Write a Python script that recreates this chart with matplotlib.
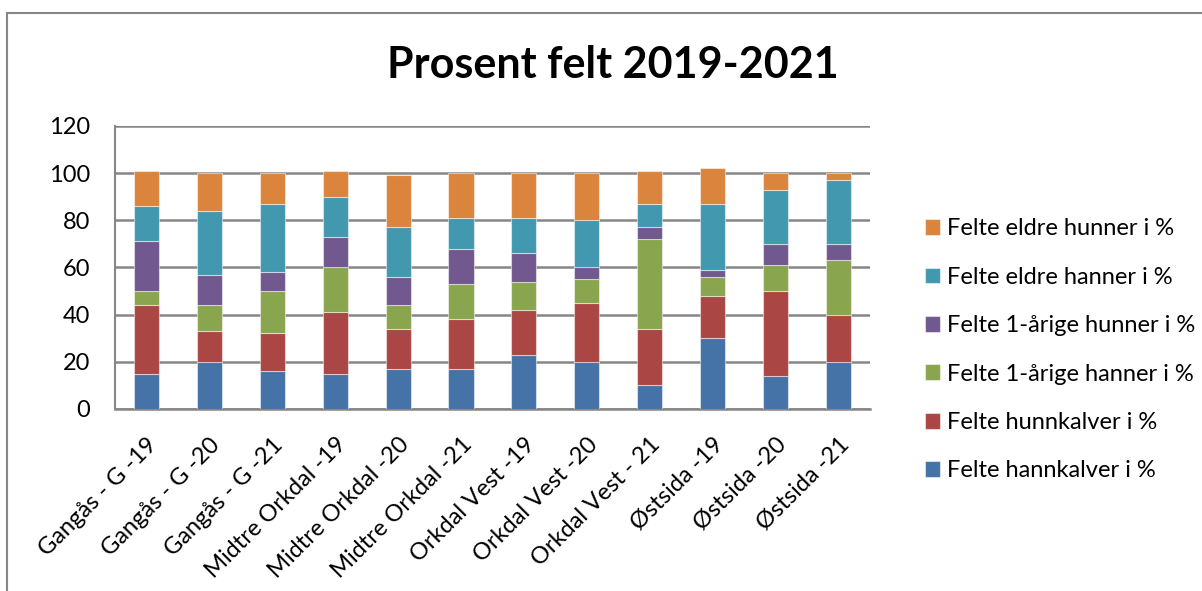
import numpy as np
import matplotlib
matplotlib.use("Agg")
import matplotlib.pyplot as plt
from matplotlib.patches import Rectangle

plt.rcParams['font.family'] = ['Lato', 'DejaVu Sans']

categories = ["Gangås - G -19", "Gangås - G -20", "Gangås - G -21",
              "Midtre Orkdal -19", "Midtre Orkdal -20", "Midtre Orkdal -21",
              "Orkdal Vest -19", "Orkdal Vest -20", "Orkdal Vest - 21",
              "Østsida -19", "Østsida -20", "Østsida -21"]

hannkalver = [15, 20, 16, 15, 17, 17, 23, 20, 10, 30, 14, 20]
hunnkalver = [29, 13, 16, 26, 17, 21, 19, 25, 24, 18, 36, 20]
aarige_hanner = [6, 11, 18, 19, 10, 15, 12, 10, 38, 8, 11, 23]
aarige_hunner = [21, 13, 8, 13, 12, 15, 12, 5, 5, 3, 9, 7]
eldre_hanner = [15, 27, 29, 17, 21, 13, 15, 20, 10, 28, 23, 27]
eldre_hunner = [15, 16, 13, 11, 22, 19, 19, 20, 14, 15, 7, 3]

series_names = ["Felte hannkalver i %", "Felte hunnkalver i %",
                "Felte 1-årige hanner i %", "Felte 1-årige hunner i %",
                "Felte eldre hanner i %", "Felte eldre hunner i %"]
series = [hannkalver, hunnkalver, aarige_hanner, aarige_hunner, eldre_hanner, eldre_hunner]
colors = ['#4572A7', '#AA4643', '#89A54E', '#71588F', '#4198AF', '#DB843D']

fig = plt.figure(figsize=(12.02, 5.91), dpi=100)
ax = fig.add_axes([0.0957, 0.308, 0.628, 0.479])

x = np.arange(len(categories))
bottom = np.zeros(len(categories))
handles = []
for vals, name, c in zip(series, series_names, colors):
    b = ax.bar(x, vals, width=0.4, bottom=bottom, color=c, label=name,
               edgecolor=(1, 1, 1, 0.5), linewidth=0.8, zorder=3)
    handles.append(b)
    bottom += np.array(vals)

ax.set_xlim(-0.5, len(categories) - 0.5)
ax.set_ylim(0, 120)
ax.set_yticks(range(0, 121, 20))
ax.yaxis.grid(True, color='#868686', linewidth=1.8, zorder=0)
ax.set_axisbelow(True)
for s in ['top', 'right']:
    ax.spines[s].set_visible(False)
ax.spines['left'].set_color('#868686')
ax.spines['bottom'].set_color('#868686')
ax.spines['left'].set_linewidth(1.5)
ax.spines['bottom'].set_linewidth(1.8)
ax.tick_params(axis='y', length=0, pad=18, labelsize=17)
ax.tick_params(axis='x', length=0, pad=18)
ax.set_xticks(x)
ax.set_xticklabels(categories, rotation=45, ha='right', va='top',
                   rotation_mode='anchor', fontsize=17)

fig.text(0.51, 0.89, "Prosent felt 2019-2021", ha='center', va='center',
         fontsize=31, fontweight='bold')

leg = fig.legend(handles[::-1], series_names[::-1], loc='center left',
                 bbox_to_anchor=(0.7515, 0.408), frameon=False, fontsize=17,
                 handlelength=0.65, handleheight=0.65, handletextpad=0.3,
                 labelspacing=1.16)

fig.patches.append(Rectangle((7 / 1202, -0.1), 1.2, 1.078, transform=fig.transFigure,
                             fill=False, edgecolor='#868686', linewidth=1.5))

fig.savefig("out.png", dpi=100)
